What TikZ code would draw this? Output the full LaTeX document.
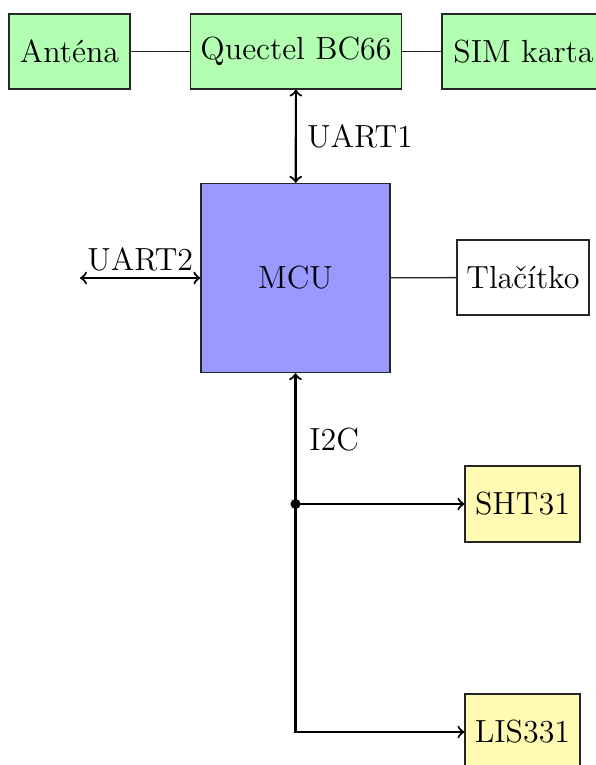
\documentclass[tikz,border=0pt]{standalone}
\usepackage{fontspec}
\begin{document}
\begin{tikzpicture}[x=0.375pt,y=-0.375pt,font=\fontsize{12}{14}\selectfont,
  box/.style={draw=black!85,line width=0.45pt,minimum height=28.1pt,inner sep=2pt},
  gbox/.style={box,fill=green!30},
  ybox/.style={box,fill=yellow!30,minimum width=43.1pt,minimum height=28.5pt},
  conn/.style={line width=0.8pt},
  plain/.style={line width=0.5pt,draw=black!85}]
\useasboundingbox (0,0) rectangle (595,765);
\node[gbox,minimum width=45.4pt] (ant) at (69.5,51.5) {Anténa};
\node[gbox,minimum width=79.1pt] (que) at (296,51.5) {Quectel BC66};
\node[gbox,minimum width=61.1pt] (sim) at (523.5,51.5) {SIM karta};
\node[box,fill=blue!40,minimum width=70.9pt,minimum height=70.9pt] (mcu) at (295.5,278) {MCU};
\node[box,fill=white,minimum width=49.5pt] (tl) at (523,277.5) {Tlačítko};
\node[ybox] (sht) at (522.5,504) {SHT31};
\node[ybox] (lis) at (522.5,732) {LIS331};
\coordinate (u2) at (80,278);
\coordinate (dot) at (295.5,504);
\coordinate (corner) at (295.5,732);
\draw[plain] (ant) -- (que);
\draw[plain] (que) -- (sim);
\draw[plain] (mcu) -- (tl);
\draw[conn,<->] (que) -- node[right=0.5pt,anchor=west] {UART1} (mcu);
\draw[conn,<->] (u2) -- node[above=-1pt] {UART2} (mcu.west);
\draw[conn,<->] (mcu.south) -- (corner) -- (lis);
\node[anchor=west] (i2c) at (300,440) {I2C};
\draw[conn,->] (dot) -- (sht);
\fill (dot) circle (1.9pt);
\end{tikzpicture}
\end{document}
